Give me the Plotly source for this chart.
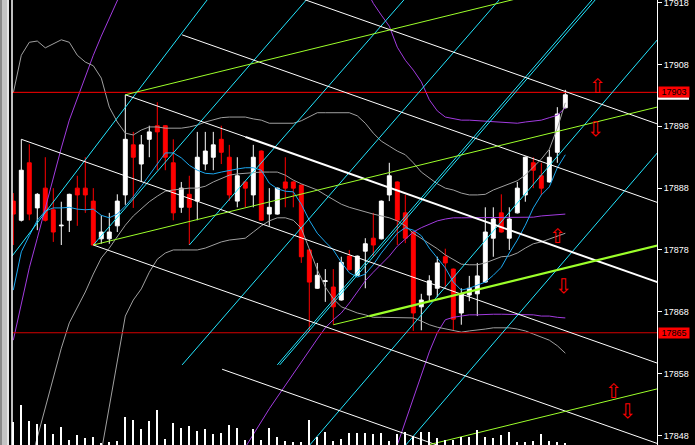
import plotly.graph_objs as go

# ---- candles (bar index 0..69) ----
opens = [17885.9, 17882.8, 17892.1, 17884.8, 17888.0, 17884.5, 17881.9, 17882.8, 17888.0, 17888.0,
         17885.9, 17879.8, 17879.8, 17881.9, 17886.9, 17895.0, 17891.9, 17895.9, 17898.1, 17898.1,
         17892.1, 17884.9, 17887.0, 17885.9, 17891.9, 17893.0, 17895.9, 17893.0, 17885.9, 17889.0,
         17886.9, 17894.0, 17883.8, 17883.8, 17889.0, 17889.0, 17888.5, 17878.0, 17871.8, 17872.9,
         17872.0, 17869.9, 17877.0, 17873.9, 17877.8, 17879.9, 17879.8, 17886.9, 17889.0, 17884.0,
         17880.9, 17868.8, 17870.7, 17871.8, 17876.9, 17874.9, 17867.8, 17870.7, 17870.9, 17872.8,
         17879.9, 17884.0, 17879.9, 17884.0, 17886.9, 17892.1, 17890.0, 17889.0, 17893.8, 17901.0]
highs = [17887.2, 17895.9, 17895.1, 17887.2, 17893.0, 17888.0, 17885.8, 17887.1, 17890.0, 17893.0,
         17888.0, 17883.6, 17884.0, 17887.0, 17903.1, 17897.1, 17896.6, 17898.1, 17901.9, 17898.2,
         17895.9, 17889.0, 17890.0, 17897.1, 17897.1, 17897.1, 17898.1, 17895.0, 17893.0, 17889.1,
         17895.0, 17894.1, 17888.0, 17888.1, 17893.0, 17889.1, 17888.6, 17878.1, 17875.9, 17874.9,
         17874.9, 17876.9, 17878.0, 17877.1, 17879.9, 17884.0, 17886.0, 17892.1, 17889.1, 17886.9,
         17881.0, 17870.9, 17873.9, 17876.9, 17878.2, 17875.0, 17871.8, 17873.8, 17875.9, 17884.9,
         17884.9, 17887.0, 17884.9, 17889.0, 17893.1, 17893.0, 17892.1, 17894.2, 17901.1, 17903.9]
lows = [17878.8, 17882.6, 17882.8, 17881.2, 17882.6, 17879.3, 17878.8, 17880.9, 17881.9, 17884.0,
        17878.7, 17879.0, 17879.0, 17880.9, 17885.3, 17884.8, 17889.0, 17893.0, 17890.9, 17890.9,
        17882.8, 17884.0, 17878.8, 17882.8, 17890.9, 17890.9, 17891.9, 17885.9, 17884.9, 17884.9,
        17884.9, 17882.7, 17881.9, 17883.7, 17884.9, 17884.9, 17875.9, 17865.0, 17871.7, 17869.6,
        17865.9, 17869.8, 17874.7, 17873.8, 17871.8, 17876.9, 17879.7, 17885.9, 17878.8, 17879.1,
        17864.9, 17865.0, 17869.6, 17870.4, 17871.8, 17865.0, 17865.9, 17869.7, 17867.3, 17872.7,
        17876.9, 17880.8, 17878.0, 17883.9, 17885.8, 17888.0, 17886.9, 17888.9, 17892.1, 17900.9]
closes = [17883.8, 17890.9, 17883.8, 17887.0, 17882.8, 17880.9, 17882.0, 17887.0, 17886.9, 17886.9,
          17878.8, 17880.9, 17880.9, 17885.9, 17895.9, 17893.0, 17895.0, 17897.1, 17897.1, 17893.0,
          17884.0, 17888.0, 17884.9, 17893.0, 17894.0, 17895.0, 17893.8, 17886.9, 17890.0, 17888.0,
          17893.0, 17882.8, 17884.9, 17888.0, 17888.0, 17888.0, 17876.9, 17872.8, 17873.9, 17873.0,
          17868.8, 17876.0, 17874.8, 17877.0, 17879.0, 17878.8, 17885.9, 17890.0, 17882.8, 17879.9,
          17867.8, 17869.9, 17873.0, 17875.9, 17875.9, 17866.8, 17870.9, 17871.8, 17873.8, 17880.9,
          17883.0, 17880.9, 17883.0, 17888.0, 17893.0, 17890.9, 17888.0, 17893.0, 17900.0, 17903.1]
volumes = [23, 40, 24, 21, 21, 11, 18, 5, 10, 7, 8, 2, 3, 4, 28, 25, 16, 24, 35, 6,
           22, 17, 19, 14, 16, 11, 12, 20, 17, 5, 16, 5, 17, 8, 4, 3, 3, 25, 8, 13,
           4, 6, 12, 12, 12, 11, 12, 4, 11, 13, 9, 13, 13, 7, 5, 5, 8, 8, 15, 8,
           7, 10, 13, 3, 3, 4, 11, 4, 3, 2]

# ---- indicators, one value per bar (None = not drawn) ----
ma_fast = [17871.5, 17877.7, 17880.3, 17882.8, 17884.3, 17884.8, 17884.8, 17884.9, 17884.6, 17884.5,
           17884.6, 17883.6, 17883.2, 17883.8, 17885.1, 17886.6, 17888.3, 17890.1, 17892.1, 17893.7,
           17893.7, 17892.9, 17891.7, 17890.9, 17890.4, 17890.3, 17890.6, 17890.9, 17891.1, 17891.3,
           17891.3, 17890.9, 17888.8, 17887.9, 17887.5, 17887.4, 17885.4, 17882.8, 17880.7, 17879.3,
           17878.0, 17876.0, 17874.3, 17873.6, 17874.1, 17875.6, 17877.5, 17879.1, 17880.7, 17881.6,
           17881.2, 17880.3, 17878.3, 17876.7, 17875.1, 17872.8, 17871.5, 17871.8, 17872.3, 17872.8,
           17873.9, 17875.2, 17877.5, 17879.6, 17882.0, 17884.8, 17886.9, 17888.2, 17891.3, 17893.4]
bb_upper = [17903.4, 17909.5, 17911.6, 17911.8, 17910.7, 17911.3, 17912.0, 17911.6, 17909.5, 17908.4,
            17907.8, 17905.8, 17901.1, 17898.7, 17896.9, 17896.6, 17897.4, 17897.9, 17897.9, 17897.7,
            17897.7, 17897.7, 17897.9, 17898.2, 17898.7, 17899.0, 17899.4, 17899.5, 17899.5, 17899.5,
            17899.2, 17899.0, 17898.5, 17898.5, 17898.5, 17898.5, 17898.9, 17899.5, 17900.2, 17900.2,
            17900.2, 17900.2, 17900.2, 17899.7, 17898.5, 17896.9, 17895.6, 17894.8, 17894.0, 17893.4,
            17892.1, 17890.6, 17889.6, 17888.7, 17888.0, 17887.7, 17887.2, 17886.9, 17886.9, 17887.0,
            17887.7, 17888.2, 17888.7, 17889.2, 17890.1, 17891.4, 17892.7, 17894.3, 17897.7, 17901.8]
bb_mid = [17833.2, 17838.0, 17842.9, 17847.7, 17852.6, 17857.3, 17862.1, 17866.2, 17868.6, 17871.2,
          17874.1, 17876.7, 17878.3, 17880.1, 17882.0, 17883.5, 17884.6, 17885.8, 17886.7, 17887.5,
          17887.7, 17887.9, 17888.0, 17888.0, 17888.3, 17889.0, 17889.5, 17890.1, 17890.3, 17890.4,
          17890.6, 17890.6, 17890.6, 17890.6, 17890.1, 17889.3, 17888.7, 17888.2, 17887.7, 17886.9,
          17886.1, 17885.4, 17884.9, 17884.5, 17884.1, 17883.8, 17883.5, 17883.2, 17882.7, 17881.9,
          17880.7, 17879.9, 17879.1, 17878.2, 17877.2, 17876.4, 17875.7, 17875.6, 17875.6, 17875.9,
          17876.4, 17876.9, 17877.0, 17877.5, 17878.3, 17879.0, 17879.3, 17879.8, 17880.3, 17880.7]
bb_lower = [None, None, None, None, None, None, None, None, None, None,
            17838.0, 17845.5, 17852.9, 17860.4, 17867.3, 17869.9, 17871.7, 17874.4, 17876.5, 17877.5,
            17878.0, 17878.0, 17878.0, 17878.0, 17878.3, 17878.8, 17879.3, 17879.6, 17879.8, 17879.9,
            17880.9, 17881.9, 17882.7, 17883.2, 17883.2, 17882.8, 17881.5, 17878.3, 17874.8, 17872.0,
            17870.1, 17868.8, 17868.3, 17867.8, 17867.5, 17867.1, 17867.1, 17867.1, 17867.0, 17867.0,
            17867.0, 17866.5, 17865.9, 17865.5, 17865.2, 17864.9, 17864.7, 17864.9, 17865.0, 17865.2,
            17865.4, 17865.4, 17865.4, 17865.2, 17864.9, 17864.4, 17863.9, 17863.4, 17862.5, 17861.3]
env_upper = [17863.4, 17869.4, 17875.1, 17879.9, 17884.9, 17889.6, 17894.5, 17899.0, 17902.6, 17906.1,
             17909.5, 17912.6, 17915.5, 17918.4, 17921.2, None, None, None, None, None,
             None, None, None, None, None, None, None, None, None, None,
             None, None, None, None, None, None, None, None, None, None,
             None, None, None, None, 17920.4, 17917.9, 17916.0, 17914.2, 17910.8, 17908.7,
             17907.1, 17905.2, 17902.3, 17900.5, 17899.5, 17899.2, 17899.0, 17899.0, 17898.9, 17898.9,
             17898.7, 17898.7, 17898.5, 17898.5, 17898.7, 17898.9, 17899.0, 17899.4, 17899.8, 17901.0]
env_mid = [None] * 28 + [
    17844.0, 17846.1, 17848.2, 17850.3, 17852.3, 17854.2, 17856.1, 17858.1, 17859.9, 17861.8,
    17863.6, 17865.4, 17866.7, 17867.8, 17869.4, 17871.2, 17873.0, 17874.4, 17875.7, 17877.0,
    17878.6, 17879.8, 17880.9, 17881.6, 17882.2, 17882.7, 17883.0, 17883.2, 17883.2, 17883.2,
    17883.2, 17883.2, 17883.2, 17883.3, 17883.3, 17883.3, 17883.3, 17883.3, 17883.5, 17883.6,
    17883.6, 17883.8]
env_lower = [None] * 47 + [
    17842.7, 17846.4, 17850.2, 17854.0, 17857.8, 17861.5, 17864.6, 17866.7, 17867.1, 17867.3,
    17867.5, 17867.5, 17867.6, 17867.6, 17867.6, 17867.6, 17867.5, 17867.5, 17867.5, 17867.3,
    17867.3, 17867.1, 17867.0]

# ---- drawn objects: (bar0, price0, bar1, price1) ----
white_thin = [(14, 17903.1, 29, 17896.3), (21.1, 17912.8, 82, 17885.0), (34, 17919.6, 82, 17897.7),
              (1, 17895.9, 82, 17859.0), (10, 17878.8, 82, 17846.0), (26.1, 17858.7, 55, 17845.5)]
white_thick = [(29, 17896.3, 82, 17872.1)]
green_thin = [(10, 17878.8, 82, 17901.6), (14, 17903.1, 82, 17924.7), (40, 17865.9, 44.5, 17867.3),
              (52, 17846.5, 82, 17856.0)]
green_thick = [(44.5, 17867.3, 82, 17879.2)]
cyan_lines = [(-0.16, 17877.0, 25.2, 17920.1), (10, 17878.8, 37.6, 17919.9), (22, 17878.8, 49.8, 17919.9),
              (21.1, 17859.4, 61.7, 17919.9), (33.0, 17859.4, 73.3, 17919.9), (33.3, 17859.4, 73.7, 17919.9),
              (36.1, 17845.0, 81.5, 17913.5), (48.1, 17845.0, 81.5, 17895.2)]
arrows_up = [(72.96, 17904.6), (67.96, 17880.3), (74.96, 17855.2)]
arrows_down = [(72.71, 17897.6), (68.71, 17872.2), (76.71, 17851.9)]

level_hi = 17903.5
level_lo = 17864.6
level_labels = ['17903', '17865']
price_ticks = [17848, 17858, 17868, 17878, 17888, 17898, 17908, 17918]

bars = list(range(len(opens)))

traces = []


def seg_traces(lines, color, width):
    out = []
    for x0, y0, x1, y1 in lines:
        out.append(go.Scatter(x=[x0, x1], y=[y0, y1], mode='lines',
                              line=dict(color=color, width=width),
                              hoverinfo='skip', showlegend=False))
    return out


# volumes at the bottom
traces.append(go.Bar(x=bars, y=volumes, yaxis='y2', width=0.12,
                     marker=dict(color='white', line=dict(width=0)),
                     hoverinfo='skip', showlegend=False))

# bands and average
for vals, col in [(env_upper, '#a23be0'), (env_mid, '#a23be0'), (env_lower, '#a23be0'),
                  (bb_upper, '#a0a0a0'), (bb_mid, '#a0a0a0'), (bb_lower, '#a0a0a0'),
                  (ma_fast, '#1ca8f0')]:
    traces.append(go.Scatter(x=bars, y=vals, mode='lines', line=dict(color=col, width=1),
                             connectgaps=False, hoverinfo='skip', showlegend=False))

# horizontal levels
traces.append(go.Scatter(x=[-1, 82], y=[level_hi, level_hi], mode='lines',
                         line=dict(color='#ff0000', width=1), hoverinfo='skip', showlegend=False))
traces.append(go.Scatter(x=[-1, 82], y=[level_lo, level_lo], mode='lines',
                         line=dict(color='#d40000', width=1), hoverinfo='skip', showlegend=False))

traces += seg_traces(cyan_lines, '#22e6ff', 1)
traces += seg_traces(white_thin, 'white', 1)
traces += seg_traces(white_thick, 'white', 2)
traces += seg_traces(green_thin, '#9cff2a', 1)
traces += seg_traces(green_thick, '#9cff2a', 2.2)

traces.append(go.Candlestick(x=bars, open=opens, high=highs, low=lows, close=closes,
                             increasing=dict(line=dict(color='white', width=1), fillcolor='white'),
                             decreasing=dict(line=dict(color='#ff0000', width=1), fillcolor='#ff0000'),
                             whiskerwidth=0, hoverinfo='skip', showlegend=False))

annotations = []
for xa, ya in arrows_up:
    annotations.append(dict(x=xa, y=ya, xref='x', yref='y', text='\u21e7', showarrow=False,
                            font=dict(color='#ff0000', size=20, family='DejaVu Sans')))
for xa, ya in arrows_down:
    annotations.append(dict(x=xa, y=ya, xref='x', yref='y', text='\u21e9', showarrow=False,
                            font=dict(color='#ff0000', size=20, family='DejaVu Sans')))
for lv, txt in zip([level_hi, level_lo], level_labels):
    annotations.append(dict(x=1, y=lv, xref='paper', yref='y', text=txt, showarrow=False,
                            xanchor='left', xshift=1, bgcolor='#ff0000', width=30, height=10,
                            borderpad=0, font=dict(color='black', size=9, family='Liberation Sans')))

shapes = [
    # window frame on the left
    dict(type='rect', xref='paper', yref='paper', x0=-12 / 645, x1=-10 / 645, y0=0, y1=1,
         fillcolor='#8a8a8a', line=dict(width=0), layer='above'),
    dict(type='rect', xref='paper', yref='paper', x0=-10 / 645, x1=-5 / 645, y0=0, y1=1,
         fillcolor='#c4c4c4', line=dict(width=0), layer='above'),
    dict(type='rect', xref='paper', yref='paper', x0=-5 / 645, x1=-3 / 645, y0=0, y1=1,
         fillcolor='#e6e6e6', line=dict(width=0), layer='above'),
    dict(type='line', xref='paper', yref='paper', x0=0, x1=0, y0=0, y1=1,
         line=dict(color='white', width=1.5), layer='above'),
    # thin white strip under the upper price label
    dict(type='rect', xref='paper', yref='y', x0=1 + 1 / 645, x1=1 + 32 / 645,
         y0=level_hi - 1.2, y1=level_hi - 0.8, fillcolor='white', line=dict(width=0), layer='above'),
]

layout = go.Layout(
    width=695, height=445,
    margin=dict(l=12, r=38, t=0, b=0),
    paper_bgcolor='black', plot_bgcolor='black',
    showlegend=False, hovermode=False,
    xaxis=dict(range=[-0.1625, 80.46], visible=False, showgrid=False, zeroline=False,
               rangeslider=dict(visible=False), fixedrange=True),
    yaxis=dict(range=[17846.44, 17918.44], side='right', tickvals=price_ticks,
               ticktext=[str(t) for t in price_ticks], automargin=False,
               ticklabeloverflow='allow',
               tickfont=dict(color='white', size=9, family='Liberation Sans'),
               ticks='outside', ticklen=4, tickcolor='white', showline=True, linecolor='white',
               linewidth=1, showgrid=False, zeroline=False, fixedrange=True),
    yaxis2=dict(range=[0, 445], overlaying='y', visible=False, fixedrange=True),
    annotations=annotations, shapes=shapes,
)

fig = go.Figure(data=traces, layout=layout)
# drop the browser's default page margin so the chart sits at the window corner
fig.write_html("out.html", config={'displayModeBar': False},
               post_script="document.body.style.margin='0';"
                           "document.body.style.overflow='hidden';")
